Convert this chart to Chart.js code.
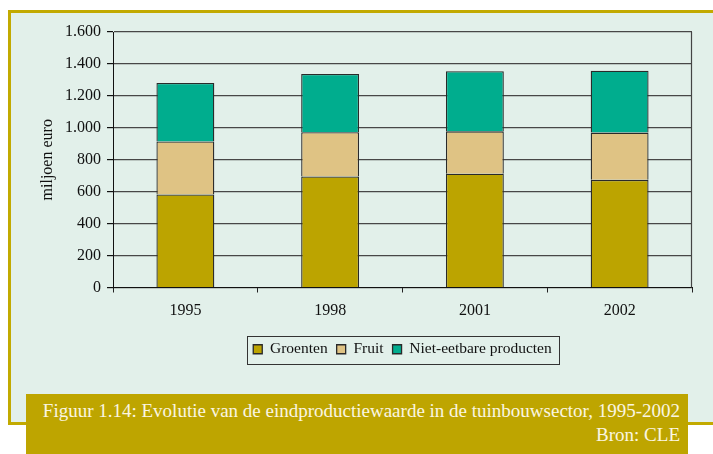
<!DOCTYPE html>
<html>
<head>
<meta charset="utf-8">
<script src="https://cdn.jsdelivr.net/npm/chart.js@4/dist/chart.umd.min.js"></script>
<style>
  html, body { margin: 0; padding: 0; background: #ffffff; overflow: hidden; }
  #wrap { position: relative; width: 713px; height: 454px; }
  #panel {
    position: absolute; left: 8px; top: 10px; width: 720px; height: 409px;
    background: #e2f0ea; border: 3px solid #c2aa00;
  }
  #chartBox { position: absolute; left: 0; top: 0; width: 713px; height: 454px; }
  #caption {
    position: absolute; left: 26px; top: 394px; width: 654px; height: 56px;
    padding-right: 8px; background: #bea500; color: #fbf6e2;
    font-family: "Liberation Serif", serif; font-size: 19px; line-height: 24px;
    text-align: right; white-space: nowrap; padding-top: 5px; box-sizing: content-box;
  }
</style>
</head>
<body>
<div id="wrap">
  <div id="panel"></div>
  <div id="chartBox"><canvas id="chart" width="713" height="454"></canvas></div>
  <div id="caption">Figuur 1.14: Evolutie van de eindproductiewaarde in de tuinbouwsector, 1995-2002<br>Bron: CLE</div>
</div>
<script>
const years = ['1995', '1998', '2001', '2002'];
const groenten = [583, 695, 712, 674];
const fruit = [332, 277, 266, 296];
const nietEetbaar = [366, 365, 376, 388];

const serif = '"Liberation Serif", "Times New Roman", serif';

// kader rond de legende en rechterrand van het plotgebied
const frames = {
  id: 'frames',
  afterDraw(chart) {
    const ctx = chart.ctx;
    const area = chart.chartArea;
    ctx.save();
    ctx.strokeStyle = '#444';
    ctx.lineWidth = 1.2;
    ctx.beginPath();
    ctx.moveTo(Math.round(area.right) - 0.5, area.top);
    ctx.lineTo(Math.round(area.right) - 0.5, area.bottom);
    ctx.stroke();

    const boxes = chart.legend.legendHitBoxes;
    if (boxes && boxes.length) {
      const left = Math.min(...boxes.map(b => b.left)) - 6;
      const right = Math.max(...boxes.map(b => b.left + b.width)) + 7;
      const top = boxes[0].top - 6;
      const bottom = boxes[0].top + boxes[0].height + 6;
      ctx.strokeStyle = '#333';
      ctx.lineWidth = 1;
      ctx.strokeRect(Math.round(left) + 0.5, Math.round(top) + 0.5, Math.round(right - left), Math.round(bottom - top));
    }
    ctx.restore();
  }
};

const ctx = document.getElementById('chart').getContext('2d');
new Chart(ctx, {
  type: 'bar',
  data: {
    labels: years,
    datasets: [
      { label: 'Groenten', data: groenten, backgroundColor: '#bca400', borderColor: '#2a2a2a', borderWidth: 1.3 },
      { label: 'Fruit', data: fruit, backgroundColor: '#dfc384', borderColor: '#2a2a2a', borderWidth: 1.3 },
      { label: 'Niet-eetbare producten', data: nietEetbaar, backgroundColor: '#00ad8e', borderColor: '#2a2a2a', borderWidth: 1.3 },
    ],
  },
  options: {
    responsive: false,
    animation: false,
    layout: { padding: { left: 34, right: 21, top: 32, bottom: 87 } },
    datasets: { bar: { categoryPercentage: 1, barPercentage: 0.4 } },
    plugins: {
      tooltip: { enabled: false },
      legend: {
        position: 'bottom',
        fullSize: false,
        labels: {
          font: { family: serif, size: 15.5 },
          color: '#111',
          boxWidth: 9,
          boxHeight: 9,
          padding: 9,
          useBorderRadius: false,
        },
      },
    },
    scales: {
      x: {
        stacked: true,
        grid: { drawOnChartArea: false, drawTicks: true, tickLength: 5, tickColor: '#222', offset: true },
        border: { color: '#111', width: 1 },
        ticks: { font: { family: serif, size: 16 }, color: '#111', padding: 9 },
        afterFit(scale) { scale.height = 45; },
      },
      y: {
        stacked: true,
        min: 0,
        max: 1600,
        grid: { color: '#474747', lineWidth: 1.2, tickLength: 6, tickColor: '#111' },
        border: { color: '#111', width: 1 },
        ticks: {
          stepSize: 200,
          font: { family: serif, size: 16 },
          color: '#111',
          padding: 6,
          callback: v => v.toLocaleString('de-DE'),
        },
        title: { display: true, text: 'miljoen euro', font: { family: serif, size: 16 }, color: '#111' },
        afterFit(scale) { scale.width = 79; },
      },
    },
  },
  plugins: [frames],
});
</script>
</body>
</html>
